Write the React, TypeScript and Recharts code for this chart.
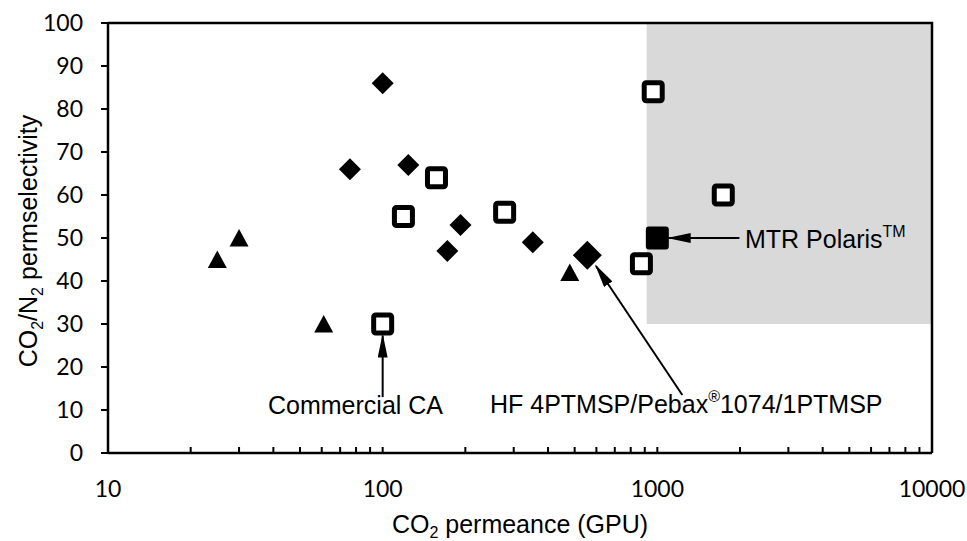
import React from "react";
import {
  ScatterChart,
  Scatter,
  XAxis,
  YAxis,
  ReferenceArea,
  ReferenceLine,
} from "recharts";

// literature membranes (triangles)
const triX = [25, 30, 61, 480];
const triY = [45, 50, 30, 42];
// composite membranes (diamonds)
const diaX = [76, 100, 124, 172, 192, 352];
const diaY = [66, 86, 67, 47, 53, 49];
// HF 4PTMSP/Pebax 1074/1PTMSP
const hfX = [556];
const hfY = [46];
// open squares
const sqX = [100, 119, 157, 278, 875, 966, 1738];
const sqY = [30, 55, 64, 56, 44, 84, 60];
// MTR Polaris
const polX = [1000];
const polY = [50];

const xTicks = [
  10, 20, 30, 40, 50, 60, 70, 80, 90, 100, 200, 300, 400, 500, 600, 700, 800,
  900, 1000, 2000, 3000, 4000, 5000, 6000, 7000, 8000, 9000, 10000,
];
const xLabels = [10, 100, 1000, 10000];
const yTicks = [0, 10, 20, 30, 40, 50, 60, 70, 80, 90, 100];

const toPts = (xs: number[], ys: number[]) =>
  xs.map((x, i) => ({ x, y: ys[i] }));

const Triangle = (p: any) => (
  <polygon
    points={`${p.cx},${p.cy - 9} ${p.cx + 9.5},${p.cy + 8.5} ${p.cx - 9.5},${p.cy + 8.5}`}
    fill="#000"
  />
);
const Diamond = (r: number) => (p: any) => (
  <polygon
    points={`${p.cx},${p.cy - r} ${p.cx + r},${p.cy} ${p.cx},${p.cy + r} ${p.cx - r},${p.cy}`}
    fill="#000"
  />
);
const OpenSquare = (p: any) => (
  <rect
    x={p.cx - 9}
    y={p.cy - 9}
    width={18}
    height={18}
    rx={2}
    fill="#fff"
    stroke="#000"
    strokeWidth={5}
  />
);
const FilledSquare = (p: any) => (
  <rect x={p.cx - 11.5} y={p.cy - 11.5} width={23} height={23} rx={3} fill="#000" />
);

const W = 967;
const H = 541;
const margin = { top: 23, right: 35, left: 48, bottom: 48 };
const yAxisW = 60;
const xAxisH = 40;
const plotL = margin.left + yAxisW;
const plotR = W - margin.right;
const plotT = margin.top;
const plotB = H - margin.bottom - xAxisH;

const axisStyle = { stroke: "#000", strokeWidth: 2.5 };
const tickFont = { fill: "#000", fontSize: 23, fontFamily: "Lato" };
const arial = "'Liberation Sans', Arial, sans-serif";

export default function App() {
  return (
    <div style={{ position: "absolute", left: 0, top: 0, width: W, height: H, background: "#fff" }}>
      <ScatterChart width={W} height={H} margin={margin}>
        <defs>
          <marker
            id="arrow"
            markerUnits="userSpaceOnUse"
            markerWidth={24}
            markerHeight={10}
            refX={22}
            refY={5}
            orient="auto"
          >
            <path d="M0,0 L24,5 L0,10 Z" fill="#000" />
          </marker>
        </defs>
        <ReferenceArea
          x1={915}
          x2={10000}
          y1={30}
          y2={100}
          fill="#d9d9d9"
          fillOpacity={1}
          stroke="none"
          ifOverflow="visible"
        />
        <XAxis
          dataKey="x"
          type="number"
          scale="log"
          domain={[10, 10000]}
          ticks={xTicks}
          interval={0}
          tickFormatter={(v: number) => (xLabels.includes(v) ? String(v) : "")}
          tickSize={-6}
          tickMargin={34}
          tickLine={{ stroke: "#000", strokeWidth: 2 }}
          axisLine={axisStyle}
          tick={tickFont}
          height={xAxisH}
        />
        <YAxis
          dataKey="y"
          type="number"
          domain={[0, 100]}
          ticks={yTicks}
          interval={0}
          tickSize={7}
          tickMargin={18}
          tickLine={{ stroke: "#000", strokeWidth: 2 }}
          axisLine={axisStyle}
          tick={tickFont}
          width={yAxisW}
        />
        <Scatter data={toPts(triX, triY)} shape={Triangle} isAnimationActive={false} />
        <Scatter data={toPts(diaX, diaY)} shape={Diamond(11)} isAnimationActive={false} />
        <Scatter data={toPts(hfX, hfY)} shape={Diamond(14.5)} isAnimationActive={false} />
        <Scatter data={toPts(sqX, sqY)} shape={OpenSquare} isAnimationActive={false} />
        <Scatter data={toPts(polX, polY)} shape={FilledSquare} isAnimationActive={false} />
        <ReferenceLine
          segment={[{ x: 100, y: 13 }, { x: 100, y: 27.3 }]}
          stroke="#000"
          strokeWidth={2}
          markerEnd="url(#arrow)"
        />
        <ReferenceLine
          segment={[{ x: 1990, y: 50 }, { x: 1100, y: 50 }]}
          stroke="#000"
          strokeWidth={2}
          markerEnd="url(#arrow)"
        />
        <ReferenceLine
          segment={[{ x: 1233, y: 13.5 }, { x: 598, y: 43.5 }]}
          stroke="#000"
          strokeWidth={2}
          markerEnd="url(#arrow)"
        />
      </ScatterChart>
      <svg
        width={W}
        height={H}
        style={{ position: "absolute", left: 0, top: 0, pointerEvents: "none" }}
        fontFamily={arial}
        fill="#000"
      >
        {/* top and right edges of the plot frame */}
        <path
          d={`M${plotL},${plotT} L${plotR},${plotT} L${plotR},${plotB}`}
          fill="none"
          stroke="#000"
          strokeWidth={2.5}
        />
        <text x={520} y={533} fontSize={25} textAnchor="middle">
          CO<tspan fontSize={16} dy={5}>2</tspan>
          <tspan dy={-5}> permeance (GPU)</tspan>
        </text>
        <text transform="translate(37,241) rotate(-90)" fontSize={25} textAnchor="middle">
          CO<tspan fontSize={16} dy={6}>2</tspan>
          <tspan dy={-6}>/N</tspan>
          <tspan fontSize={16} dy={6}>2</tspan>
          <tspan dy={-6}> permselectivity</tspan>
        </text>
        <text x={268} y={414} fontSize={25}>
          Commercial CA
        </text>
        <text x={745} y={248} fontSize={25}>
          MTR Polaris<tspan fontSize={16} dy={-11}>TM</tspan>
        </text>
        <text x={490} y={413} fontSize={25}>
          HF 4PTMSP/Pebax<tspan fontSize={16} dy={-11}>®</tspan>
          <tspan dy={11}>1074/1PTMSP</tspan>
        </text>
      </svg>
    </div>
  );
}
